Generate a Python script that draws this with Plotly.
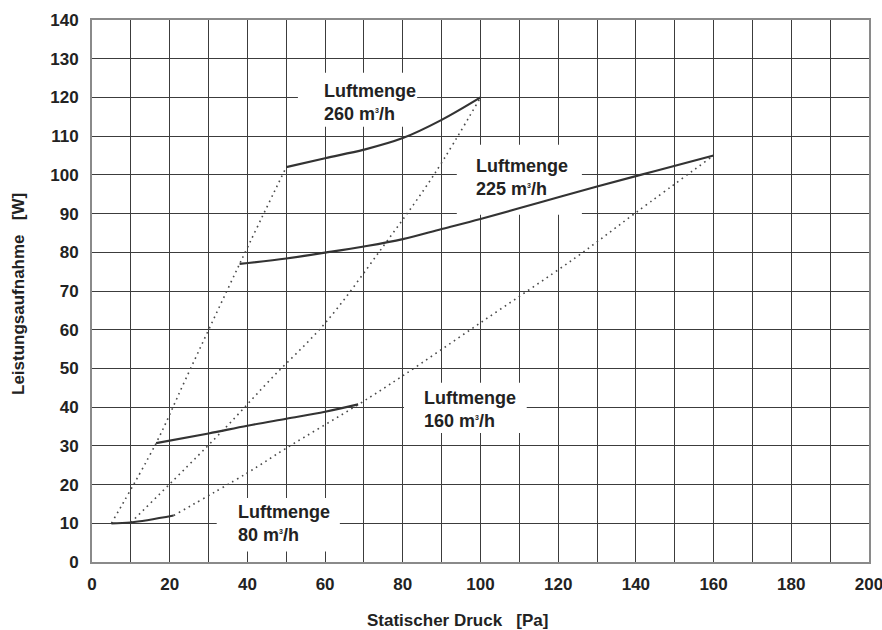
import plotly.graph_objects as go

# ---- data ----
c80_x = [5, 10, 21]
c80_y = [10, 10.2, 12]
c160_x = [16.5, 30, 40, 50, 60, 68.5]
c160_y = [30.7, 33.2, 35.2, 37.0, 38.8, 40.7]
c225_x = [38, 50, 60, 70, 80, 90, 100, 115, 130, 145, 160]
c225_y = [77, 78.4, 79.9, 81.5, 83.4, 86, 88.6, 92.8, 97, 101, 105]
c260_x = [50, 60, 70, 80, 90, 100]
c260_y = [102, 104.3, 106.5, 109.5, 114.2, 120]

sys1_x = [5, 16.5, 24, 38, 50]
sys1_y = [10, 30.7, 47, 77, 102]
sys2_x = [10, 33.7, 45.8, 60, 75, 88, 100]
sys2_y = [10.2, 34, 47, 61.7, 81.6, 100, 120]
sys3_x = [21, 39.8, 50, 68.6, 79.7, 100, 124.3, 139.8, 160]
sys3_y = [12, 22.9, 29.4, 40.7, 47.9, 61.8, 78.5, 90.1, 105]

x_ticks = list(range(0, 201, 10))
x_ticktext = [str(v) if v % 20 == 0 else "" for v in x_ticks]
y_ticks = list(range(0, 141, 10))

label_flows = ["260", "225", "160", "80"]

# ---- layout helpers (label placement) ----
label_pos = [(59.5, 118.7), (98.6, 99.3), (85.1, 39.4), (37.2, 9.9)]
label_box = [(53.0, 83.7, 112.4, 126.4), (93.9, 126.1, 89.7, 107.8),
             (80.3, 111.9, 33.3, 46.3), (32.1, 63.8, 2.7, 16.5)]

FONT = "Liberation Sans, Arial, sans-serif"
LINE_C = "#333333"
TXT_C = "#222222"

fig = go.Figure()

for xs, ys in [(sys1_x, sys1_y), (sys2_x, sys2_y), (sys3_x, sys3_y)]:
    fig.add_trace(go.Scatter(x=xs, y=ys, mode="lines",
                             line=dict(color="#4a4a4a", width=1.6, dash="1.6px,4px"),
                             line_shape="spline", hoverinfo="skip", showlegend=False))

for xs, ys in [(c80_x, c80_y), (c160_x, c160_y), (c225_x, c225_y), (c260_x, c260_y)]:
    fig.add_trace(go.Scatter(x=xs, y=ys, mode="lines", line=dict(color=LINE_C, width=2.2),
                             line_shape="spline", hoverinfo="skip", showlegend=False))

for (x0, x1, y0, y1) in label_box:
    fig.add_shape(type="rect", x0=x0, x1=x1, y0=y0, y1=y1, xref="x", yref="y",
                  fillcolor="white", line=dict(width=0), layer="between")

for flow, (lx, ly) in zip(label_flows, label_pos):
    fig.add_annotation(x=lx, y=ly, xref="x", yref="y", xanchor="left", yanchor="middle",
                       align="left", showarrow=False, borderpad=0,
                       text=f"Luftmenge<br>{flow} m<sup><span style='font-size:7px'>3</span></sup>/h",
                       font=dict(family=FONT, size=18, color=TXT_C, weight="bold"))

fig.add_annotation(x=(457 - 92) / 777, y=(562 - 620.5) / 542, xref="paper", yref="paper",
                   xanchor="center", yanchor="middle", showarrow=False,
                   text="Statischer Druck   [Pa]",
                   font=dict(family=FONT, size=17, color=TXT_C, weight="bold"))
fig.add_annotation(x=(18 - 92) / 777, y=(562 - 294) / 542, xref="paper", yref="paper",
                   xanchor="center", yanchor="middle", showarrow=False, textangle=-90,
                   text="Leistungsaufnahme   [W]",
                   font=dict(family=FONT, size=17, color=TXT_C, weight="bold"))

axis_common = dict(showgrid=True, gridcolor="#3c3c3c", gridwidth=1.4, zeroline=False,
                   showline=True, linecolor="#8a8a8a", linewidth=2, mirror=True,
                   ticks="", ticklabeloverflow="allow", automargin=False,
                   tickfont=dict(family=FONT, size=17, color=TXT_C, weight="bold"))

fig.update_layout(
    width=882, height=630,
    margin=dict(l=92, r=13, t=20, b=68, autoexpand=False),
    paper_bgcolor="white", plot_bgcolor="white",
    xaxis=dict(range=[0, 200], tickmode="array", tickvals=x_ticks, ticktext=x_ticktext,
               ticklabelstandoff=6, **axis_common),
    yaxis=dict(range=[0, 140], tickmode="array", tickvals=y_ticks,
               ticklabelstandoff=8, **axis_common),
)

fig.write_html("out.html", config={"displayModeBar": False},
               post_script="document.body.style.margin='0';")
